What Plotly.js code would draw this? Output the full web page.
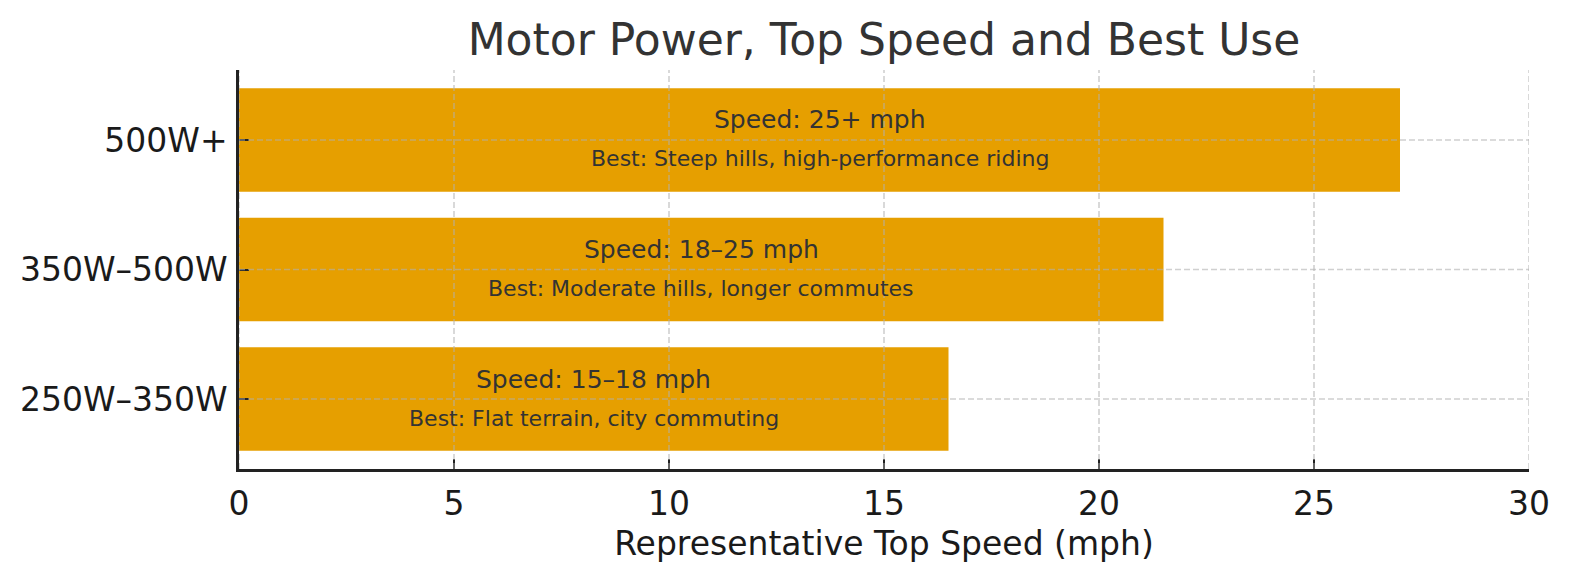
<!DOCTYPE html>
<html>
<head>
<meta charset="utf-8">
<script src="https://cdn.plot.ly/plotly-3.0.1.min.js"></script>
<style>
  html, body { margin: 0; padding: 0; background: #ffffff; }
  #myDiv { width: 1579px; height: 580px; }
</style>
</head>
<body>
<div id="myDiv"></div>
<script>
// chart values
var categories = ['250W\u2013350W', '350W\u2013500W', '500W+'];
var topSpeed = [16.5, 21.5, 27];
var speedText = ['Speed: 15\u201318 mph', 'Speed: 18\u201325 mph', 'Speed: 25+ mph'];
var bestText = ['Best: Flat terrain, city commuting', 'Best: Moderate hills, longer commutes', 'Best: Steep hills, high-performance riding'];
var xTicks = [0, 5, 10, 15, 20, 25, 30];

var fontName = '"DejaVu Sans", Verdana, sans-serif';
var gridColor = 'rgba(176,176,176,0.6)';

var trace = {
  type: 'bar',
  orientation: 'h',
  x: topSpeed,
  y: categories,
  width: 0.8,
  marker: { color: '#E69F00', line: { width: 0 } },
  hoverinfo: 'x+y',
  showlegend: false
};

// labels in the middle of each bar
var annotations = [];
for (let i = 0; i < categories.length; i++) {
  annotations.push({ text: speedText[i], x: topSpeed[i] / 2, y: categories[i], xref: 'x', yref: 'y',
    yshift: 20, showarrow: false, font: { family: fontName, size: 25, color: '#333333' } });
  annotations.push({ text: bestText[i], x: topSpeed[i] / 2, y: categories[i], xref: 'x', yref: 'y',
    yshift: -19, showarrow: false, font: { family: fontName, size: 22, color: '#333333' } });
}

// grid is drawn over the bars, so it is done with shapes
var shapes = [];
xTicks.forEach(function(t) {
  shapes.push({ type: 'line', layer: 'above', xref: 'x', yref: 'paper', x0: t, x1: t, y0: 0, y1: 1,
    line: { color: gridColor, width: 1.6, dash: '6px,3px' } });
});
categories.forEach(function(c, i) {
  shapes.push({ type: 'line', layer: 'above', xref: 'x', yref: 'y', x0: xTicks[0], x1: xTicks[xTicks.length - 1], y0: i, y1: i,
    line: { color: gridColor, width: 1.6, dash: '6px,3px' } });
});

var layout = {
  width: 1579,
  height: 580,
  paper_bgcolor: '#ffffff',
  plot_bgcolor: '#ffffff',
  margin: { l: 239, r: 50, t: 70, b: 111, pad: 0 },
  font: { family: fontName, color: '#1a1a1a' },
  title: {
    text: 'Motor Power, Top Speed and Best Use',
    font: { family: fontName, size: 44, color: '#333333' },
    x: 0.5, xref: 'paper', xanchor: 'center',
    y: 1 - 40 / 580, yref: 'container', yanchor: 'middle'
  },
  xaxis: {
    range: [0, 30],
    tickvals: xTicks,
    ticktext: xTicks.map(String),
    showgrid: false,
    zeroline: false,
    showline: true,
    linecolor: '#222222',
    linewidth: 2.5,
    ticks: 'inside',
    ticklen: 10,
    tickwidth: 2,
    tickcolor: '#222222',
    tickfont: { family: fontName, size: 33, color: '#1a1a1a' },
    ticklabelstandoff: 4,
    automargin: false,
    title: { text: 'Representative Top Speed (mph)', standoff: 10,
      font: { family: fontName, size: 33, color: '#1a1a1a' } }
  },
  yaxis: {
    type: 'category',
    categoryorder: 'array',
    categoryarray: categories,
    range: [-0.54, 2.54],
    showgrid: false,
    zeroline: false,
    showline: true,
    linecolor: '#222222',
    linewidth: 2.5,
    ticks: 'inside',
    ticklen: 10,
    tickwidth: 2,
    tickcolor: '#222222',
    tickfont: { family: fontName, size: 33, color: '#1a1a1a' },
    ticklabelstandoff: 2,
    automargin: false
  },
  annotations: annotations,
  shapes: shapes
};

var config = { displayModeBar: false, responsive: false };

Plotly.newPlot('myDiv', [trace], layout, config);
</script>
</body>
</html>
